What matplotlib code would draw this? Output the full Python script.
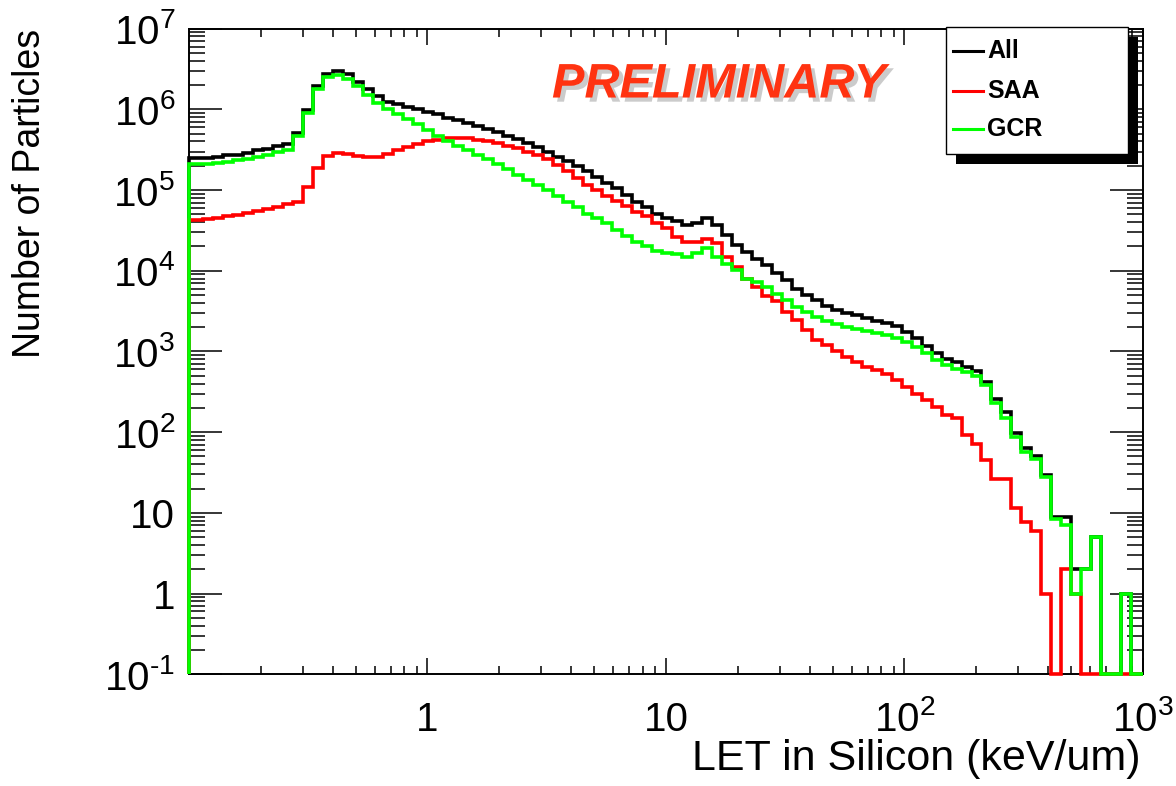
import numpy as np
import matplotlib
matplotlib.use("Agg")
import matplotlib.pyplot as plt
import matplotlib.patheffects as pe
from matplotlib.ticker import FixedLocator, FixedFormatter, LogLocator, NullFormatter
from matplotlib.patches import Rectangle
from matplotlib.lines import Line2D

# LET bins in keV/um, log spaced (~24 per decade)
bin_edges = np.logspace(-0.981, 3.034, 97)
bin_edges[0] = 0.1
bin_edges[-1] = 1000.0

# counts per bin
all_counts = [
    2.5e5, 2.5e5, 2.6e5, 2.7e5, 2.75e5, 2.9e5, 3.1e5, 3.2e5, 3.5e5, 3.7e5,
    5.1e5, 9.8e5, 1.95e6, 2.75e6, 2.95e6, 2.75e6, 2.2e6, 1.78e6, 1.45e6, 1.23e6,
    1.17e6, 1.07e6, 1.0e6, 9.3e5, 8.7e5, 7.9e5, 7.4e5, 6.8e5, 6.3e5, 5.75e5,
    5.25e5, 4.7e5, 4.25e5, 3.8e5, 3.4e5, 2.95e5, 2.6e5, 2.3e5, 2.0e5, 1.74e5,
    1.46e5, 1.23e5, 1.05e5, 8.7e4, 7.2e4, 6.2e4, 5.1e4, 4.5e4, 4.1e4, 3.7e4,
    3.9e4, 4.5e4, 3.7e4, 2.75e4, 2.1e4, 1.72e4, 1.41e4, 1.17e4, 9.4e3, 7.6e3,
    6.0e3, 5.0e3, 4.3e3, 3.7e3, 3.3e3, 3.0e3, 2.8e3, 2.6e3, 2.4e3, 2.25e3,
    2.05e3, 1.74e3, 1.45e3, 1.17e3, 955, 795, 740, 645, 575, 415,
    257, 178, 98, 63, 50, 29.5, 9, 9, 2, 2,
    5, 0, 0, 1, 0, 0,
]
saa_counts = [
    4.25e4, 4.35e4, 4.5e4, 4.7e4, 4.95e4, 5.2e4, 5.5e4, 5.8e4, 6.2e4, 6.65e4,
    7.15e4, 1.1e5, 1.86e5, 2.63e5, 2.9e5, 2.8e5, 2.63e5, 2.54e5, 2.57e5, 2.8e5,
    3.15e5, 3.4e5, 3.7e5, 4.0e5, 4.2e5, 4.35e5, 4.4e5, 4.35e5, 4.2e5, 4.05e5,
    3.8e5, 3.55e5, 3.3e5, 3.0e5, 2.75e5, 2.45e5, 2.05e5, 1.7e5, 1.4e5, 1.17e5,
    1.0e5, 8.5e4, 7.4e4, 6.3e4, 5.4e4, 4.7e4, 3.9e4, 3.4e4, 2.6e4, 2.25e4,
    2.3e4, 2.5e4, 2.2e4, 1.5e4, 1.1e4, 8.0e3, 6.2e3, 4.8e3, 4.2e3, 3.1e3,
    2.45e3, 1.86e3, 1.38e3, 1.2e3, 1.0e3, 850, 740, 645, 590, 525,
    445, 365, 300, 250, 205, 162, 148, 91, 72, 45,
    26, 26, 11.4, 7.8, 6, 1, 0, 2, 1, 0,
    0, 0, 0, 0, 0, 0,
]
gcr_counts = [
    2.1e5, 2.1e5, 2.15e5, 2.25e5, 2.35e5, 2.45e5, 2.6e5, 2.75e5, 2.95e5, 3.15e5,
    4.7e5, 8.9e5, 1.78e6, 2.5e6, 2.65e6, 2.4e6, 1.95e6, 1.5e6, 1.2e6, 1.0e6,
    8.7e5, 7.6e5, 6.5e5, 5.5e5, 4.7e5, 4.0e5, 3.55e5, 3.1e5, 2.7e5, 2.4e5,
    2.1e5, 1.82e5, 1.55e5, 1.32e5, 1.17e5, 1.0e5, 8.5e4, 7.2e4, 6.1e4, 5.1e4,
    4.5e4, 3.9e4, 3.2e4, 2.7e4, 2.3e4, 2.0e4, 1.78e4, 1.66e4, 1.62e4, 1.5e4,
    1.66e4, 1.9e4, 1.5e4, 1.2e4, 1.02e4, 8.0e3, 7.2e3, 6.3e3, 5.1e3, 4.3e3,
    3.55e3, 3.1e3, 2.7e3, 2.4e3, 2.2e3, 2.0e3, 1.9e3, 1.8e3, 1.7e3, 1.58e3,
    1.48e3, 1.32e3, 1.15e3, 955, 775, 675, 600, 550, 500, 380,
    229, 151, 87, 56, 46, 27.5, 8.5, 7, 1, 2,
    5, 0, 0, 1, 0, 0,
]

series = [("All", all_counts, "#000000"),
          ("SAA", saa_counts, "#ff0000"),
          ("GCR", gcr_counts, "#00ff00")]

x_ticks = [1, 10, 100, 1000]
x_tick_labels = ["1", "10", "10$^{2}$", "10$^{3}$"]
y_ticks = [0.1, 1, 10, 100, 1e3, 1e4, 1e5, 1e6, 1e7]
y_tick_labels = ["10$^{\\text{-}1}$", "1", "10", "10$^{2}$", "10$^{3}$",
                 "10$^{4}$", "10$^{5}$", "10$^{6}$", "10$^{7}$"]

XMIN, XMAX = 0.1, 1000
YMIN, YMAX = 0.1, 1e7

plt.rcParams["font.family"] = ["Liberation Sans", "DejaVu Sans"]
plt.rcParams["mathtext.fontset"] = "custom"
plt.rcParams["mathtext.rm"] = "Liberation Sans"
plt.rcParams["mathtext.it"] = "Liberation Sans:italic"
plt.rcParams["mathtext.bf"] = "Liberation Sans:bold"

fig = plt.figure(figsize=(11.76, 7.86), dpi=100)
ax = fig.add_axes([0.1607, 0.1422, 0.8112, 0.8214])

# ROOT-like histograms: empty bins sit on the frame floor
for name, counts, color in series:
    vals = np.maximum(np.asarray(counts, dtype=float), YMIN)
    ax.stairs(vals, bin_edges, baseline=YMIN, color=color, lw=2.6,
              zorder=3, clip_on=False)

ax.set_xscale("log")
ax.set_yscale("log")
ax.set_xlim(XMIN, XMAX)
ax.set_ylim(YMIN, YMAX)

ax.xaxis.set_major_locator(FixedLocator(x_ticks))
ax.xaxis.set_major_formatter(FixedFormatter(x_tick_labels))
ax.yaxis.set_major_locator(FixedLocator(y_ticks))
ax.yaxis.set_major_formatter(FixedFormatter(y_tick_labels))
for axis in (ax.xaxis, ax.yaxis):
    axis.set_minor_locator(LogLocator(base=10, subs=np.arange(2, 10), numticks=100))
    axis.set_minor_formatter(NullFormatter())

ax.tick_params(which="both", direction="in", top=True, right=True, width=1.1)
ax.tick_params(axis="x", which="major", length=11.5, labelsize=29, pad=41)
ax.tick_params(axis="x", which="minor", length=5.8)
ax.tick_params(axis="y", which="major", length=24, labelsize=29, pad=10)
ax.tick_params(axis="y", which="minor", length=11.5)
plt.setp(ax.get_xticklabels(), va="baseline")
plt.setp(ax.get_yticklabels(), va="center_baseline")

for sp in ax.spines.values():
    sp.set_linewidth(1.4)

ax.set_xlabel("LET in Silicon (keV/um)", fontsize=31, loc="right")
ax.xaxis.set_label_coords(0.997, -0.101)
ax.set_ylabel("Number of Particles", fontsize=27, loc="top")
ax.yaxis.set_label_coords(-0.148, 1.0)

# watermark
ax.text(0.5556, 0.9126, "PRELIMINARY", transform=ax.transAxes,
        fontsize=35, fontweight="bold", fontstyle="italic", color="#ff3311",
        ha="center", va="center", zorder=4,
        path_effects=[pe.SimplePatchShadow(offset=(3, -3), shadow_rgbFace="#999999", alpha=0.5),
                      pe.Normal()])

# legend box with solid shadow, ROOT TLegend style
lx0, ly0, lw, lh = 0.794, 0.806, 0.190, 0.196
ax.add_patch(Rectangle((lx0 + 0.0105, ly0 - 0.0155), lw, lh, transform=ax.transAxes,
                       facecolor="black", edgecolor="none", zorder=5, clip_on=False))
ax.add_patch(Rectangle((lx0, ly0), lw, lh, transform=ax.transAxes,
                       facecolor="white", edgecolor="black", lw=1, zorder=6, clip_on=False))
for (name, counts, color), yy in zip(series, [0.966, 0.903, 0.844]):
    ax.add_line(Line2D([0.801, 0.832], [yy, yy], transform=ax.transAxes,
                       color=color, lw=2.2, zorder=7))
    ax.text(0.8365, yy, name, transform=ax.transAxes, fontsize=18,
            fontweight="bold", ha="left", va="center", zorder=7)

fig.savefig("out.png", dpi=100)
